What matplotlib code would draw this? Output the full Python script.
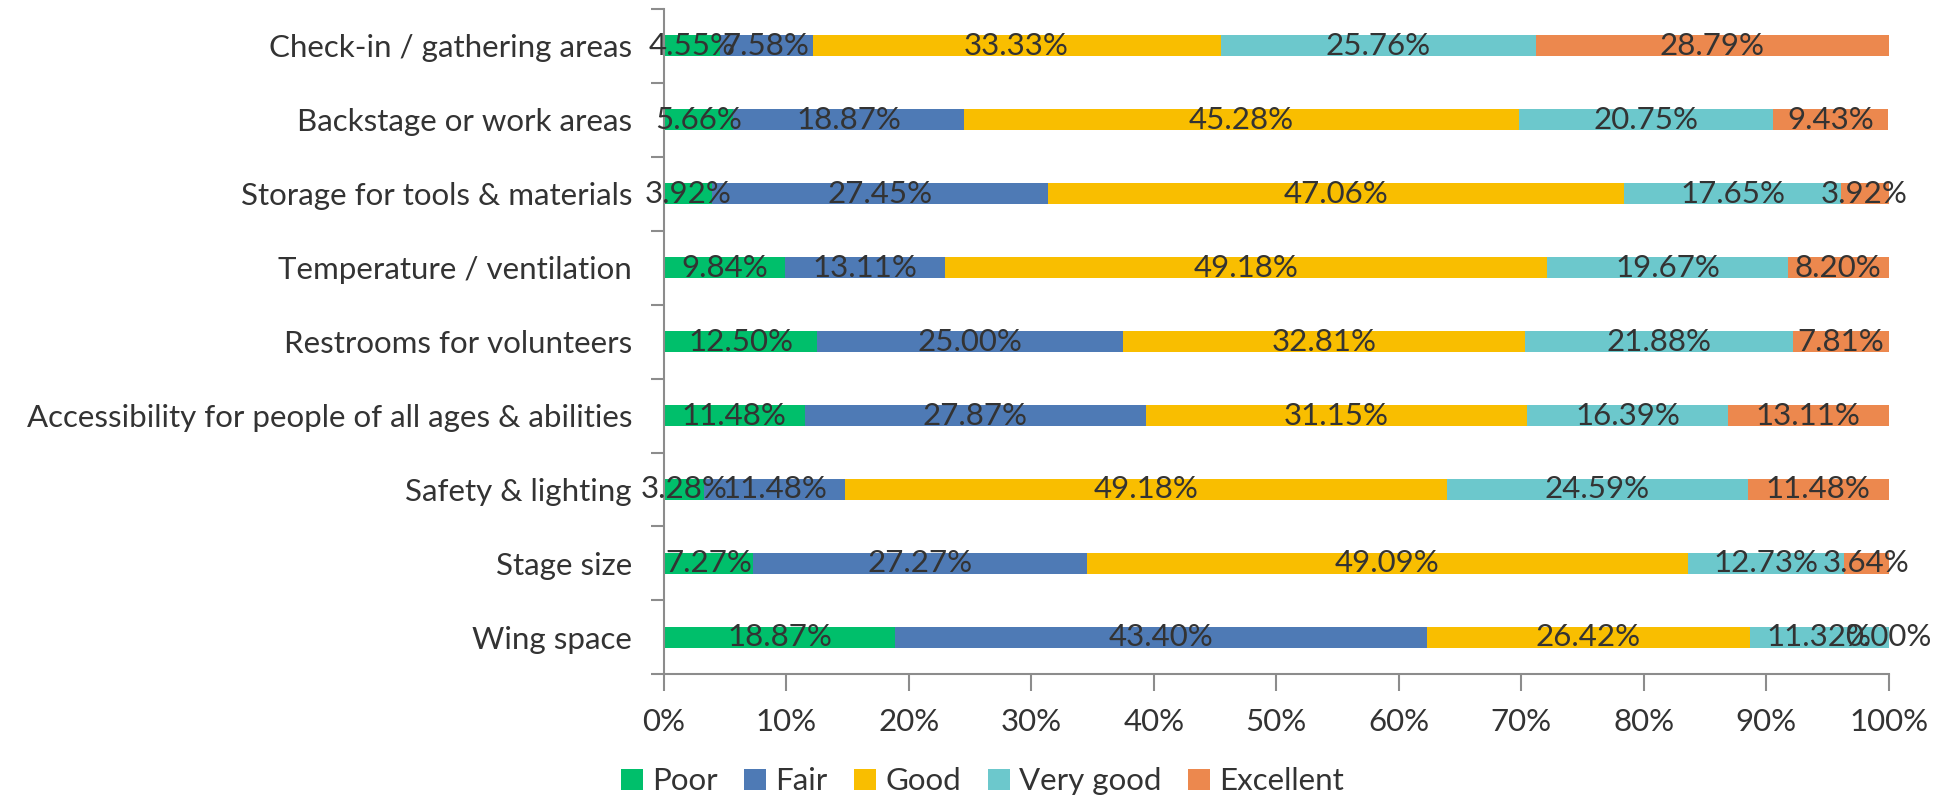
import numpy as np
import matplotlib.pyplot as plt
from matplotlib.ticker import FixedLocator, PercentFormatter

# data, top bar first
categories = ['Check-in / gathering areas', 'Backstage or work areas',
              'Storage for tools & materials', 'Temperature / ventilation',
              'Restrooms for volunteers',
              'Accessibility for people of all ages & abilities',
              'Safety & lighting', 'Stage size', 'Wing space']
ratings = ['Poor', 'Fair', 'Good', 'Very good', 'Excellent']
poor = [4.55, 5.66, 3.92, 9.84, 12.50, 11.48, 3.28, 7.27, 18.87]
fair = [7.58, 18.87, 27.45, 13.11, 25.00, 27.87, 11.48, 27.27, 43.40]
good = [33.33, 45.28, 47.06, 49.18, 32.81, 31.15, 49.18, 49.09, 26.42]
very_good = [25.76, 20.75, 17.65, 19.67, 21.88, 16.39, 24.59, 12.73, 11.32]
excellent = [28.79, 9.43, 3.92, 8.20, 7.81, 13.11, 11.48, 3.64, 0.00]

colors = ['#00BF6B', '#4E7AB5', '#F9BE00', '#6CC8CC', '#EC884E']
text_color = '#333333'
axis_color = '#8C8C8C'

plt.rcParams['font.family'] = ['Lato', 'DejaVu Sans']
fs = 22.5

fig = plt.figure(figsize=(19.53, 7.99), dpi=100)
ax = fig.add_axes([0.340, 0.156, 0.627, 0.833])

y = np.arange(len(categories))
left = np.zeros(len(categories))
series = [poor, fair, good, very_good, excellent]
for name, vals, c in zip(ratings, series, colors):
    vals = np.array(vals)
    ax.barh(y, vals, left=left, height=0.29, color=c, label=name)
    # centred data labels (zero-width segments too)
    for yi, l, v in zip(y, left, vals):
        ax.text(l + v / 2, yi, f'{v:.2f}%', ha='center', va='center',
                fontsize=fs, color=text_color)
    left += vals

ax.set_xlim(0, 100)
ax.set_ylim(len(categories) - 0.5, -0.5)
ax.set_yticks(y)
ax.set_yticklabels(categories)
ax.yaxis.set_minor_locator(FixedLocator(np.arange(-0.5, len(categories), 1)))
ax.tick_params(axis='y', which='major', length=0, pad=23, labelsize=fs,
               labelcolor=text_color)
ax.tick_params(axis='y', which='minor', length=9.5, color=axis_color, width=1.5)
ax.set_xticks(np.arange(0, 101, 10))
ax.xaxis.set_major_formatter(PercentFormatter(decimals=0))
ax.tick_params(axis='x', length=12, color=axis_color, width=1.5, pad=12,
               labelsize=fs, labelcolor=text_color)

for s in ['top', 'right']:
    ax.spines[s].set_visible(False)
for s in ['left', 'bottom']:
    ax.spines[s].set_color(axis_color)
    ax.spines[s].set_linewidth(1.5)

fig.legend(loc='center', bbox_to_anchor=(0.503, 0.022), ncol=5, frameon=False,
           fontsize=fs, labelcolor=text_color, handlelength=0.7, handleheight=0.7,
           handletextpad=0.3, columnspacing=0.85)

fig.savefig('out.png', dpi=100)
